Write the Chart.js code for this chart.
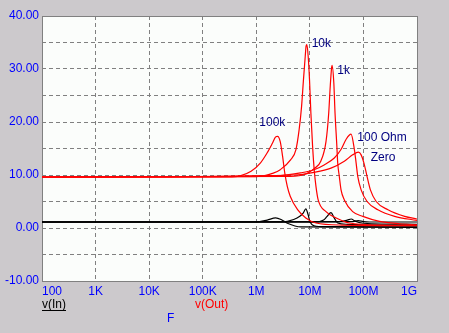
<!DOCTYPE html>
<html>
<head>
<meta charset="utf-8">
<script src="https://cdn.jsdelivr.net/npm/chart.js@4/dist/chart.umd.min.js"></script>
<style>
  html, body { margin: 0; padding: 0; background: #ccc9cc; }
  #wrap { width: 449px; height: 333px; }
</style>
</head>
<body>
<div id="wrap"><canvas id="c" width="449" height="333"></canvas></div>
<script>
// Frequency axis decades and their labels
const xTicks = [1e2, 1e3, 1e4, 1e5, 1e6, 1e7, 1e8, 1e9];
const xTickLabels = ['100', '1K', '10K', '100K', '1M', '10M', '100M', '1G'];
// Voltage axis labels (grid every 5, label every 10)
const yTickLabels = { '-10': '-10.00', '0': '0.00', '10': '10.00', '20': '20.00', '30': '30.00', '40': '40.00' };

// v(Out) for each feedback resistance: [frequency Hz, volts]
const out100k = [[1e2, 9.62], [3e5, 9.65], [5e5, 9.85], [8e5, 10.7], [1.2e6, 12.3], [1.6e6, 14.2], [2.0e6, 16.0],
  [2.3e6, 17.2], [2.5e6, 17.3], [2.8e6, 16.3], [3.1e6, 13.5], [3.4e6, 10.4], [3.8e6, 7.8], [4.3e6, 6.0],
  [5.9e6, 3.45], [8.4e6, 1.9], [1.3e7, 0.94], [4e7, 0.55], [1e9, 0.45]];
const out10k = [[1e2, 9.62], [1e6, 9.7], [1.5e6, 9.95], [2e6, 10.3], [2.8e6, 11.0], [4.4e6, 12.9], [5.5e6, 14.8],
  [6.3e6, 18.5], [7.0e6, 22.9], [7.6e6, 28.0], [8.2e6, 32.4], [8.5e6, 34.3], [8.8e6, 34.6], [9.3e6, 32.4],
  [9.85e6, 28.0], [1.045e7, 21.7], [1.125e7, 15.4], [1.205e7, 11.0], [1.3e7, 7.85], [1.43e7, 5.3],
  [2.0e7, 3.1], [3.1e7, 1.9], [5.5e7, 0.94], [2.1e8, 0.55], [1e9, 0.5]];
const out1k = [[1e2, 9.62], [4.3e6, 9.75], [8.4e6, 10.2], [1.2e7, 11.2], [1.6e7, 12.6], [2.0e7, 16.3], [2.25e7, 21.7],
  [2.4e7, 26.7], [2.55e7, 30.3], [2.6e7, 30.7], [2.8e7, 27.4], [2.95e7, 21.7], [3.17e7, 16.0], [3.31e7, 12.3],
  [3.55e7, 9.7], [3.82e7, 7.2], [4.4e7, 5.3], [6.3e7, 3.1], [9.75e7, 2.2], [2.0e8, 1.25], [4.7e8, 0.8], [1e9, 0.6]];
const out100 = [[1e2, 9.62], [2.86e6, 9.9], [6.8e6, 10.4], [1.2e7, 11.0], [1.85e7, 11.9], [2.86e7, 13.2],
  [3.81e7, 14.8], [4.73e7, 16.7], [5.87e7, 17.7], [6.78e7, 14.8], [7.3e7, 12.3], [7.85e7, 9.7], [9.06e7, 7.2],
  [1.17e8, 5.0], [1.86e8, 3.45], [3.82e8, 2.2], [1e9, 1.43]];
const outZero = [[1e2, 9.62], [5.1e6, 10.0], [1.2e7, 10.5], [2.48e7, 11.3], [4.4e7, 12.6], [6.3e7, 13.8],
  [8.05e7, 14.3], [9.06e7, 13.8], [1.02e8, 12.3], [1.17e8, 9.7], [1.35e8, 7.2], [1.73e8, 5.0], [2.87e8, 3.45],
  [5.88e8, 2.2], [1e9, 1.7]];

// v(In) for each feedback resistance
const in100k = [[1e2, 1.13], [1e6, 1.13], [1.6e6, 1.5], [2.3e6, 1.9], [2.9e6, 1.6], [3.8e6, 0.9], [6.8e6, 0.2], [1e9, 0.1]];
const in10k = [[1e2, 1.13], [3e6, 1.13], [5e6, 1.6], [6.5e6, 2.2], [7.5e6, 2.8], [8.4e6, 3.6], [9.3e6, 2.5],
  [1.0e7, 1.25], [1.2e7, 0.43], [2e7, 0.25], [1e9, 0.2]];
const in1k = [[1e2, 1.13], [1.2e7, 1.13], [1.8e7, 1.5], [2.1e7, 2.2], [2.48e7, 2.9], [2.85e7, 1.9], [3.3e7, 0.94],
  [5e7, 0.7], [1e9, 0.5]];
const in100 = [[1e2, 1.13], [3e7, 1.13], [5e7, 1.5], [5.9e7, 1.7], [7e7, 1.3], [1e8, 0.9], [1e9, 0.7]];
const inZero = [[1e2, 1.13], [6e7, 1.2], [8e7, 1.4], [1e8, 1.2], [1.3e8, 1.13], [1e9, 1.13]];

// Curve names placed beside their resonance peaks: [text, frequency, volts]
const curveNames = [['100k', 1.14e6, 19.8], ['10k', 1.08e7, 34.7], ['1k', 3.25e7, 29.6],
  ['100 Ohm', 7.7e7, 17.0], ['Zero', 1.37e8, 13.3]];

const FONT = '"Liberation Sans", Arial, sans-serif';
const RED = '#ff0000';
const BLACK = '#000000';

function series(pairs, color) {
  return {
    data: pairs.map(p => ({ x: p[0], y: p[1] })),
    borderColor: color,
    borderWidth: 1.2,
    pointRadius: 0,
    fill: false,
    cubicInterpolationMode: 'monotone'
  };
}

// White plot area, solid frame, curve names and the trace legend
const decor = {
  id: 'decor',
  beforeDraw(chart) {
    const { ctx, chartArea: a } = chart;
    ctx.save();
    ctx.fillStyle = '#fbfdfb';
    ctx.fillRect(a.left, a.top, a.right - a.left, a.bottom - a.top);
    ctx.restore();
  },
  beforeDatasetsDraw(chart) {
    const { ctx, chartArea: a } = chart;
    ctx.save();
    ctx.strokeStyle = '#808080';
    ctx.lineWidth = 1;
    ctx.setLineDash([]);
    ctx.strokeRect(a.left + 0.5, a.top + 0.5, a.right - a.left, a.bottom - a.top);
    ctx.restore();
  },
  afterDraw(chart) {
    const { ctx, scales } = chart;
    ctx.save();
    ctx.font = '12px ' + FONT;
    ctx.textBaseline = 'middle';
    ctx.textAlign = 'left';
    ctx.fillStyle = '#000080';
    curveNames.forEach(([t, f, v]) => {
      ctx.fillText(t, scales.x.getPixelForValue(f), scales.y.getPixelForValue(v));
    });
    // trace legend below the frequency axis
    ctx.fillStyle = BLACK;
    ctx.fillText('v(In)', 42, 304.5);
    const w = ctx.measureText('v(In)').width;
    ctx.fillRect(42, 310, w, 1);
    ctx.fillStyle = RED;
    ctx.fillText('v(Out)', 195, 304.5);
    ctx.fillStyle = '#0000ff';
    ctx.fillText('F', 167, 319);
    ctx.restore();
  }
};

new Chart(document.getElementById('c'), {
  type: 'line',
  data: {
    datasets: [
      series(out100k, RED), series(out10k, RED), series(out1k, RED), series(out100, RED), series(outZero, RED),
      series(in100k, BLACK), series(in10k, BLACK), series(in1k, BLACK), series(in100, BLACK), series(inZero, BLACK)
    ]
  },
  options: {
    responsive: false,
    animation: false,
    events: [],
    layout: { padding: { left: 0, top: 16, right: 32, bottom: 0 } },
    plugins: { legend: { display: false }, tooltip: { enabled: false } },
    scales: {
      x: {
        type: 'logarithmic',
        min: 1e2,
        max: 1e9,
        afterBuildTicks(scale) { scale.ticks = xTicks.map(v => ({ value: v })); },
        afterFit(scale) { scale.height = 52; },
        ticks: {
          autoSkip: false,
          maxRotation: 0,
          align: 'inner',
          padding: 3,
          color: '#0000ff',
          font: { family: FONT, size: 12 },
          callback(value) { const i = xTicks.indexOf(value); return i >= 0 ? xTickLabels[i] : ''; }
        },
        grid: { color: '#808080', lineWidth: 1, drawTicks: false },
        border: { display: false, dash: [4, 3] }
      },
      y: {
        type: 'linear',
        min: -10,
        max: 40,
        afterFit(scale) { scale.width = 42; },
        ticks: {
          stepSize: 5,
          autoSkip: false,
          padding: 3,
          color: '#0000ff',
          font: { family: FONT, size: 12 },
          callback(value) { return yTickLabels[String(value)] || ''; }
        },
        grid: { color: '#808080', lineWidth: 1, drawTicks: false },
        border: { display: false, dash: [4, 3] }
      }
    }
  },
  plugins: [decor]
});
</script>
</body>
</html>
